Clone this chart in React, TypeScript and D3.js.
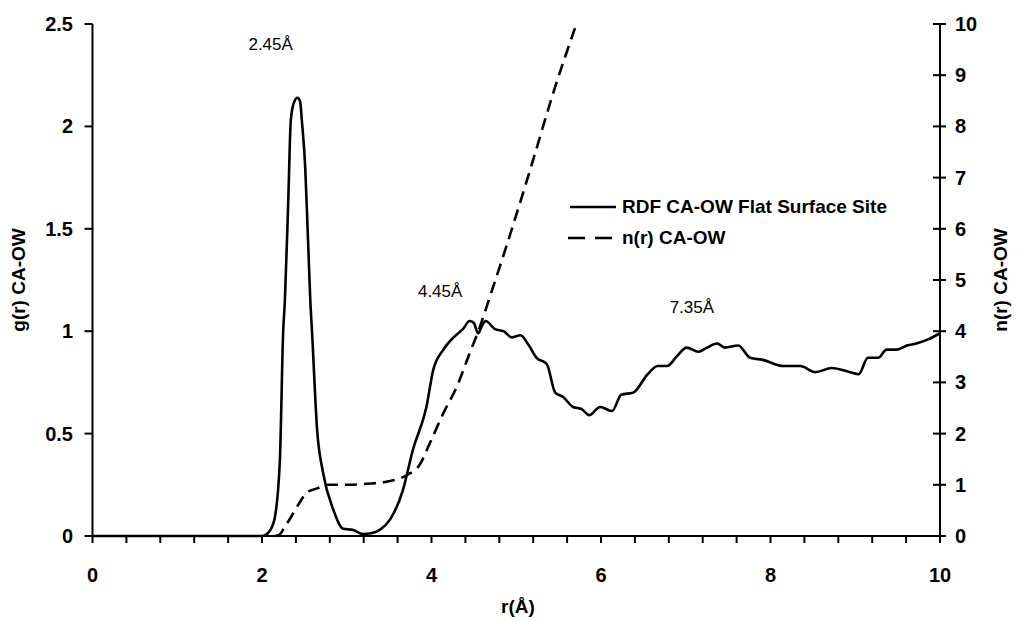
import React from "react";
import * as d3 from "d3";

const rdfR = [0, 2.0, 2.06, 2.14, 2.21, 2.25, 2.27, 2.31, 2.34, 2.38, 2.42, 2.45, 2.47, 2.51, 2.54, 2.57, 2.59, 2.65, 2.72, 2.84, 2.96, 3.07, 3.19, 3.30, 3.39, 3.51, 3.66, 3.78, 3.94, 4.02, 4.14, 4.26, 4.37, 4.45, 4.50, 4.55, 4.60, 4.64, 4.75, 4.85, 4.95, 5.05, 5.15, 5.24, 5.36, 5.46, 5.55, 5.67, 5.77, 5.86, 5.99, 6.13, 6.24, 6.38, 6.55, 6.67, 6.78, 6.90, 7.01, 7.15, 7.25, 7.37, 7.46, 7.62, 7.76, 7.91, 8.15, 8.35, 8.53, 8.72, 8.94, 9.04, 9.15, 9.27, 9.37, 9.49, 9.61, 9.72, 9.86, 10.0];
const rdfG = [0, 0, 0.01, 0.07, 0.36, 1.0, 1.15, 1.64, 2.03, 2.12, 2.14, 2.12, 2.03, 1.80, 1.48, 1.15, 1.0, 0.52, 0.31, 0.13, 0.035, 0.03, 0.01, 0.015, 0.03, 0.08, 0.22, 0.42, 0.63, 0.81, 0.91, 0.97, 1.01, 1.05, 1.04, 0.99, 1.03, 1.05, 1.01, 1.0, 0.97, 0.98, 0.93, 0.87, 0.84, 0.70, 0.68, 0.63, 0.62, 0.59, 0.63, 0.61, 0.69, 0.70, 0.79, 0.83, 0.83, 0.88, 0.92, 0.90, 0.92, 0.94, 0.92, 0.93, 0.87, 0.86, 0.83, 0.83, 0.80, 0.82, 0.80, 0.79, 0.87, 0.87, 0.91, 0.91, 0.93, 0.94, 0.96, 0.99];

const nR = [2.15, 2.2, 2.27, 2.36, 2.45, 2.53, 2.65, 2.76, 3.04, 3.24, 3.47, 3.71, 3.86, 3.98, 4.14, 4.30, 4.45, 4.57, 4.69, 4.81, 4.93, 5.20, 5.43, 5.71];
const nVal = [0, 0.02, 0.18, 0.42, 0.67, 0.85, 0.93, 1.0, 1.0, 1.02, 1.06, 1.19, 1.39, 1.81, 2.40, 2.92, 3.57, 4.08, 4.68, 5.28, 5.90, 7.35, 8.62, 10.0];

const leftTicks = [0, 0.5, 1, 1.5, 2, 2.5];
const leftTickLabels = ["0", "0.5", "1", "1.5", "2", "2.5"];
const rightTicks = [0, 1, 2, 3, 4, 5, 6, 7, 8, 9, 10];
const xLabelTicks = [0, 2, 4, 6, 8, 10];
const xMinorTicks = d3.range(0, 26).map((i) => i * 0.4);

const peakLabels = ["2.45Å", "4.45Å", "7.35Å"];
const peakLabelR = [1.84, 3.84, 6.81];
const peakLabelG = [2.373, 1.167, 1.089];

const FONT = "'Liberation Sans', Arial, sans-serif";

export default function App() {
  const W = 1021, H = 621;
  const x = d3.scaleLinear().domain([0, 10]).range([92.5, 940]);
  const yL = d3.scaleLinear().domain([0, 2.5]).range([536, 24]);
  const yR = d3.scaleLinear().domain([0, 10]).range([536, 24]);

  const rdfLine = d3.line<number>().x((_, i) => x(rdfR[i])).y((d) => yL(d)).curve(d3.curveMonotoneX);
  const nLine = d3.line<number>().x((_, i) => x(nR[i])).y((d) => yR(d)).curve(d3.curveMonotoneX);

  const x0 = x(0), x1 = x(10), yb = yL(0), yt = yL(2.5);

  return (
    <svg width={W} height={H} style={{ position: "absolute", left: 0, top: 0, background: "#fff" }} fontFamily={FONT}>
      <rect x={0} y={0} width={W} height={H} fill="#fff" />
      <line x1={x0} y1={yt} x2={x0} y2={yb} stroke="#000" strokeWidth={2} />
      <line x1={x1} y1={yt} x2={x1} y2={yb} stroke="#000" strokeWidth={2} />
      <line x1={x0} y1={yb} x2={x1} y2={yb} stroke="#000" strokeWidth={2} />

      {leftTicks.map((t, i) => (
        <g key={"l" + i}>
          <line x1={x0 - 8} x2={x0} y1={yL(t)} y2={yL(t)} stroke="#000" strokeWidth={2} />
          <text x={73} y={yL(t)} dy="0.35em" textAnchor="end" fontSize={20} fontWeight="bold">{leftTickLabels[i]}</text>
        </g>
      ))}
      {rightTicks.map((t, i) => (
        <g key={"r" + i}>
          <line x1={x1 - 7} x2={x1 + 6} y1={yR(t)} y2={yR(t)} stroke="#000" strokeWidth={2} />
          <text x={955} y={yR(t)} dy="0.35em" textAnchor="start" fontSize={20} fontWeight="bold">{t}</text>
        </g>
      ))}
      {xMinorTicks.map((t, i) => (
        <line key={"m" + i} x1={x(t)} x2={x(t)} y1={yb} y2={yb + 7} stroke="#000" strokeWidth={2} />
      ))}
      {xLabelTicks.map((t, i) => (
        <text key={"x" + i} x={x(t)} y={582} textAnchor="middle" fontSize={20} fontWeight="bold">{t}</text>
      ))}

      <text x={518} y={613} textAnchor="middle" fontSize={19} fontWeight="bold">r(Å)</text>
      <text transform={`translate(25,280) rotate(-90)`} textAnchor="middle" fontSize={19} fontWeight="bold">g(r) CA-OW</text>
      <text transform={`translate(1007,280) rotate(-90)`} textAnchor="middle" fontSize={19} fontWeight="bold">n(r) CA-OW</text>

      <path d={rdfLine(rdfG) || ""} fill="none" stroke="#000" strokeWidth={2.6} strokeLinejoin="round" />
      <path d={nLine(nVal) || ""} fill="none" stroke="#000" strokeWidth={2.6} strokeDasharray="12,7" />

      {peakLabels.map((s, i) => (
        <text key={"p" + i} x={x(peakLabelR[i])} y={yL(peakLabelG[i])} fontSize={17} textAnchor="start">{s}</text>
      ))}

      <line x1={570} x2={616} y1={207} y2={207} stroke="#000" strokeWidth={2.6} />
      <text x={622} y={213} fontSize={19} fontWeight="bold">RDF CA-OW Flat Surface Site</text>
      <line x1={568} x2={615} y1={238} y2={238} stroke="#000" strokeWidth={2.6} strokeDasharray="17,10" />
      <text x={622} y={244} fontSize={19} fontWeight="bold">n(r) CA-OW</text>
    </svg>
  );
}
